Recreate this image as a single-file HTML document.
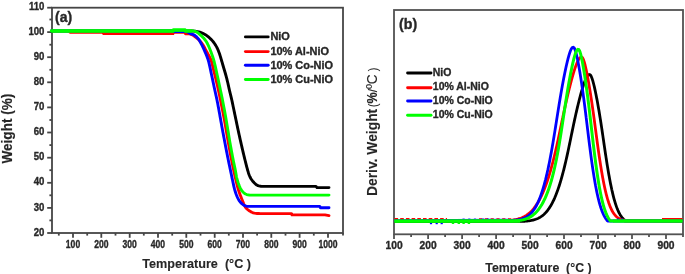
<!DOCTYPE html>
<html><head><meta charset="utf-8"><style>
html,body{margin:0;padding:0;background:#fff;}
body{width:685px;height:274px;position:relative;overflow:hidden;font-family:"Liberation Sans",sans-serif;}
</style></head><body>
<svg width="685" height="274" viewBox="0 0 685 274" style="position:absolute;left:0;top:0;will-change:transform;filter:blur(0.45px)">
<rect width="685" height="274" fill="#fff"/>
<g stroke="#454545" stroke-width="1.8" fill="none">
<rect x="52.0" y="7.7" width="291.0" height="225.3"/>
<line x1="47.2" y1="233.0" x2="52.0" y2="233.0"/>
<line x1="49.4" y1="220.4" x2="52.0" y2="220.4"/>
<line x1="47.2" y1="207.9" x2="52.0" y2="207.9"/>
<line x1="49.4" y1="195.3" x2="52.0" y2="195.3"/>
<line x1="47.2" y1="182.8" x2="52.0" y2="182.8"/>
<line x1="49.4" y1="170.2" x2="52.0" y2="170.2"/>
<line x1="47.2" y1="157.7" x2="52.0" y2="157.7"/>
<line x1="49.4" y1="145.1" x2="52.0" y2="145.1"/>
<line x1="47.2" y1="132.5" x2="52.0" y2="132.5"/>
<line x1="49.4" y1="120.0" x2="52.0" y2="120.0"/>
<line x1="47.2" y1="107.4" x2="52.0" y2="107.4"/>
<line x1="49.4" y1="94.9" x2="52.0" y2="94.9"/>
<line x1="47.2" y1="82.3" x2="52.0" y2="82.3"/>
<line x1="49.4" y1="69.8" x2="52.0" y2="69.8"/>
<line x1="47.2" y1="57.2" x2="52.0" y2="57.2"/>
<line x1="49.4" y1="44.7" x2="52.0" y2="44.7"/>
<line x1="47.2" y1="32.1" x2="52.0" y2="32.1"/>
<line x1="49.4" y1="19.5" x2="52.0" y2="19.5"/>
<line x1="47.2" y1="7.7" x2="52.0" y2="7.7"/>
<line x1="58.8" y1="233.0" x2="58.8" y2="235.6"/>
<line x1="73.0" y1="233.0" x2="73.0" y2="237.8"/>
<line x1="87.2" y1="233.0" x2="87.2" y2="235.6"/>
<line x1="101.3" y1="233.0" x2="101.3" y2="237.8"/>
<line x1="115.5" y1="233.0" x2="115.5" y2="235.6"/>
<line x1="129.7" y1="233.0" x2="129.7" y2="237.8"/>
<line x1="143.8" y1="233.0" x2="143.8" y2="235.6"/>
<line x1="158.0" y1="233.0" x2="158.0" y2="237.8"/>
<line x1="172.2" y1="233.0" x2="172.2" y2="235.6"/>
<line x1="186.3" y1="233.0" x2="186.3" y2="237.8"/>
<line x1="200.5" y1="233.0" x2="200.5" y2="235.6"/>
<line x1="214.7" y1="233.0" x2="214.7" y2="237.8"/>
<line x1="228.8" y1="233.0" x2="228.8" y2="235.6"/>
<line x1="243.0" y1="233.0" x2="243.0" y2="237.8"/>
<line x1="257.1" y1="233.0" x2="257.1" y2="235.6"/>
<line x1="271.3" y1="233.0" x2="271.3" y2="237.8"/>
<line x1="285.5" y1="233.0" x2="285.5" y2="235.6"/>
<line x1="299.6" y1="233.0" x2="299.6" y2="237.8"/>
<line x1="313.8" y1="233.0" x2="313.8" y2="235.6"/>
<line x1="328.0" y1="233.0" x2="328.0" y2="237.8"/>
<line x1="343.0" y1="233.0" x2="343.0" y2="235.6"/>
</g>
<g stroke="#525252" stroke-width="1.8" fill="none">
<rect x="394.0" y="10.0" width="289.0" height="224.3"/>
<line x1="394.0" y1="234.3" x2="394.0" y2="239.1"/>
<line x1="411.1" y1="234.3" x2="411.1" y2="236.9"/>
<line x1="428.1" y1="234.3" x2="428.1" y2="239.1"/>
<line x1="445.1" y1="234.3" x2="445.1" y2="236.9"/>
<line x1="462.1" y1="234.3" x2="462.1" y2="239.1"/>
<line x1="479.1" y1="234.3" x2="479.1" y2="236.9"/>
<line x1="496.1" y1="234.3" x2="496.1" y2="239.1"/>
<line x1="513.1" y1="234.3" x2="513.1" y2="236.9"/>
<line x1="530.1" y1="234.3" x2="530.1" y2="239.1"/>
<line x1="547.1" y1="234.3" x2="547.1" y2="236.9"/>
<line x1="564.0" y1="234.3" x2="564.0" y2="239.1"/>
<line x1="581.0" y1="234.3" x2="581.0" y2="236.9"/>
<line x1="598.0" y1="234.3" x2="598.0" y2="239.1"/>
<line x1="615.0" y1="234.3" x2="615.0" y2="236.9"/>
<line x1="632.0" y1="234.3" x2="632.0" y2="239.1"/>
<line x1="649.0" y1="234.3" x2="649.0" y2="236.9"/>
<line x1="666.0" y1="234.3" x2="666.0" y2="239.1"/>
<line x1="683.0" y1="234.3" x2="683.0" y2="236.9"/>
</g>
<polyline points="51.50,31.00 190.00,31.00 191.01,31.01 192.02,31.02 193.02,31.04 194.00,31.10 195.19,31.22 196.34,31.38 197.50,31.60 198.69,31.87 199.88,32.19 201.10,32.60 202.20,33.06 203.33,33.59 204.44,34.18 205.50,34.80 206.42,35.40 207.30,36.03 208.15,36.69 209.00,37.40 209.91,38.22 210.81,39.09 211.68,39.99 212.50,40.90 213.21,41.75 213.87,42.61 214.49,43.49 215.10,44.40 215.71,45.38 216.30,46.39 216.86,47.43 217.40,48.50 217.83,49.45 218.24,50.42 218.64,51.42 219.02,52.44 219.40,53.50 219.75,54.52 220.08,55.58 220.41,56.66 220.74,57.76 221.07,58.88 221.40,60.00 221.76,61.22 222.13,62.46 222.50,63.72 222.86,64.98 223.23,66.24 223.60,67.50 223.97,68.75 224.35,70.01 224.72,71.26 225.09,72.52 225.45,73.76 225.80,75.00 226.12,76.17 226.43,77.33 226.73,78.48 227.02,79.64 227.31,80.81 227.60,82.00 227.90,83.29 228.20,84.59 228.49,85.91 228.78,87.25 229.08,88.61 229.40,90.00 229.78,91.60 230.18,93.25 230.59,94.93 231.01,96.62 231.41,98.32 231.80,100.00 232.17,101.66 232.52,103.33 232.87,105.00 233.21,106.67 233.55,108.33 233.90,110.00 234.25,111.67 234.60,113.33 234.95,115.00 235.30,116.67 235.65,118.33 236.00,120.00 236.35,121.67 236.70,123.33 237.04,125.00 237.39,126.67 237.74,128.33 238.10,130.00 238.46,131.67 238.82,133.33 239.19,135.00 239.56,136.67 239.93,138.33 240.30,140.00 240.68,141.67 241.06,143.33 241.44,145.00 241.82,146.67 242.21,148.33 242.60,150.00 242.99,151.67 243.39,153.34 243.78,155.00 244.18,156.67 244.59,158.33 245.00,160.00 245.42,161.70 245.85,163.43 246.29,165.16 246.73,166.86 247.17,168.48 247.60,170.00 247.93,171.11 248.25,172.18 248.57,173.21 248.90,174.19 249.24,175.12 249.60,176.00 250.20,177.28 250.83,178.43 251.50,179.50 252.14,180.39 252.81,181.21 253.50,182.00 254.21,182.78 254.94,183.53 255.70,184.20 256.80,184.98 258.00,185.60 258.94,185.92 259.94,186.14 261.00,186.30 261.96,186.38 262.96,186.40 263.99,186.39 265.00,186.40 316.00,186.40 317.00,187.60 329.00,187.60" fill="none" stroke="#000" stroke-width="2.9" stroke-linejoin="round" stroke-linecap="round"/>
<polyline points="70.00,32.30 103.00,32.30 103.50,33.60 173.00,33.60 173.50,32.40 185.00,32.40 185.50,33.80 189.50,33.80 190.51,34.18 191.51,34.55 192.50,35.00 193.50,35.58 194.49,36.25 195.50,37.00 196.28,37.61 197.10,38.28 197.93,38.98 198.73,39.73 199.50,40.50 200.25,41.33 200.98,42.20 201.68,43.10 202.35,44.04 203.00,45.00 203.54,45.88 204.06,46.79 204.56,47.74 205.04,48.68 205.52,49.61 206.00,50.50 206.51,51.42 207.02,52.32 207.52,53.20 208.01,54.09 208.50,55.00 209.01,55.95 209.53,56.88 210.04,57.84 210.53,58.87 211.00,60.00 211.49,61.45 211.94,63.06 212.36,64.77 212.77,66.53 213.18,68.29 213.60,70.00 214.02,71.67 214.45,73.33 214.87,75.00 215.28,76.66 215.70,78.33 216.10,80.00 216.50,81.67 216.89,83.33 217.27,85.00 217.66,86.66 218.03,88.33 218.40,90.00 218.75,91.63 219.09,93.20 219.43,94.78 219.77,96.41 220.12,98.13 220.50,100.00 221.09,102.93 221.73,106.16 222.41,109.57 223.09,113.08 223.76,116.58 224.40,120.00 225.01,123.36 225.61,126.77 226.20,130.18 226.78,133.55 227.35,136.83 227.90,140.00 228.37,142.66 228.83,145.27 229.29,147.83 229.73,150.31 230.17,152.70 230.60,155.00 230.95,156.81 231.29,158.55 231.63,160.24 231.96,161.87 232.28,163.46 232.60,165.00 232.86,166.23 233.11,167.41 233.35,168.55 233.59,169.68 233.84,170.82 234.10,172.00 234.38,173.29 234.67,174.60 234.96,175.91 235.26,177.25 235.57,178.61 235.90,180.00 236.29,181.61 236.68,183.26 237.10,184.94 237.53,186.64 238.00,188.33 238.50,190.00 239.06,191.70 239.66,193.41 240.29,195.13 240.93,196.81 241.57,198.44 242.20,200.00 242.71,201.29 243.21,202.57 243.70,203.81 244.21,204.98 244.74,206.06 245.30,207.00 246.16,208.10 247.07,209.00 248.00,209.80 248.85,210.47 249.72,211.07 250.60,211.60 251.88,212.27 253.20,212.80 254.55,213.16 256.00,213.40 256.95,213.49 257.95,213.53 258.98,213.56 260.00,213.60 291.50,213.60 292.00,214.90 325.00,214.90 329.00,215.60" fill="none" stroke="#ff0000" stroke-width="2.9" stroke-linejoin="round" stroke-linecap="round"/>
<polyline points="51.50,30.90 173.00,30.90 173.50,31.50 185.00,31.50 185.50,31.20 186.78,31.68 188.00,32.20 188.89,32.75 189.80,33.30 191.12,33.80 192.50,34.30 193.75,34.86 195.00,35.60 195.88,36.31 196.80,37.17 197.69,38.12 198.50,39.10 199.09,39.92 199.63,40.79 200.13,41.69 200.62,42.60 201.10,43.50 201.68,44.59 202.23,45.67 202.77,46.77 203.30,47.90 203.75,48.88 204.18,49.87 204.62,50.88 205.05,51.92 205.50,53.00 205.94,54.07 206.40,55.14 206.86,56.25 207.31,57.41 207.76,58.65 208.20,60.00 208.80,62.16 209.38,64.57 209.95,67.13 210.50,69.78 211.05,72.43 211.60,75.00 212.15,77.53 212.70,80.11 213.25,82.69 213.78,85.22 214.30,87.68 214.80,90.00 215.19,91.78 215.57,93.48 215.94,95.12 216.30,96.74 216.65,98.36 217.00,100.00 217.33,101.66 217.66,103.33 217.97,105.00 218.28,106.66 218.59,108.33 218.90,110.00 219.21,111.67 219.51,113.33 219.81,115.00 220.10,116.67 220.40,118.33 220.70,120.00 221.00,121.67 221.30,123.33 221.59,125.00 221.89,126.67 222.19,128.33 222.50,130.00 222.81,131.67 223.13,133.33 223.44,135.00 223.76,136.67 224.08,138.33 224.40,140.00 224.72,141.67 225.03,143.33 225.34,145.00 225.66,146.67 225.98,148.33 226.30,150.00 226.63,151.67 226.96,153.33 227.29,155.00 227.62,156.67 227.96,158.33 228.30,160.00 228.64,161.67 228.99,163.33 229.34,165.00 229.70,166.67 230.05,168.33 230.40,170.00 230.75,171.67 231.09,173.33 231.44,175.00 231.79,176.67 232.14,178.33 232.50,180.00 232.86,181.69 233.23,183.41 233.59,185.12 233.98,186.81 234.37,188.44 234.80,190.00 235.18,191.26 235.57,192.49 235.97,193.68 236.39,194.82 236.83,195.93 237.30,197.00 237.82,198.10 238.37,199.16 238.94,200.18 239.55,201.13 240.20,202.00 240.99,202.88 241.85,203.69 242.73,204.40 243.60,205.00 244.57,205.53 245.54,205.92 246.50,206.20 247.72,206.36 249.00,206.40 249.93,206.42 250.94,206.42 251.98,206.41 253.00,206.40 319.80,206.40 320.50,207.80 329.00,207.80" fill="none" stroke="#0000ff" stroke-width="2.9" stroke-linejoin="round" stroke-linecap="round"/>
<polyline points="51.20,30.90 173.00,30.90 173.50,30.00 185.00,30.00 185.50,30.90 193.30,30.90 194.48,31.26 195.65,31.61 196.80,32.10 197.70,32.66 198.58,33.32 199.45,34.05 200.30,34.80 201.21,35.62 202.11,36.49 202.98,37.39 203.80,38.30 204.50,39.14 205.16,39.98 205.79,40.85 206.40,41.80 206.96,42.76 207.50,43.79 208.02,44.86 208.52,45.94 209.00,47.00 209.43,47.98 209.83,48.94 210.21,49.91 210.60,50.92 211.00,52.00 211.44,53.19 211.89,54.43 212.34,55.71 212.80,57.07 213.25,58.49 213.70,60.00 214.30,62.22 214.89,64.64 215.48,67.20 216.06,69.82 216.64,72.44 217.20,75.00 217.76,77.53 218.31,80.11 218.86,82.69 219.40,85.22 219.91,87.67 220.40,90.00 220.77,91.74 221.12,93.35 221.45,94.91 221.78,96.48 222.13,98.16 222.50,100.00 223.07,102.93 223.68,106.15 224.32,109.57 224.96,113.08 225.60,116.58 226.20,120.00 226.78,123.41 227.36,126.92 227.93,130.43 228.48,133.84 229.01,137.06 229.50,140.00 229.82,141.87 230.13,143.59 230.42,145.22 230.71,146.80 231.00,148.37 231.30,150.00 231.61,151.67 231.92,153.33 232.23,155.00 232.55,156.67 232.87,158.33 233.20,160.00 233.54,161.68 233.90,163.38 234.27,165.07 234.63,166.75 234.97,168.40 235.30,170.00 235.56,171.40 235.80,172.78 236.04,174.13 236.27,175.46 236.52,176.75 236.80,178.00 237.07,179.06 237.35,180.10 237.64,181.10 237.94,182.08 238.26,183.05 238.60,184.00 239.00,185.06 239.42,186.11 239.86,187.14 240.32,188.11 240.80,189.00 241.49,190.11 242.22,191.10 243.00,192.00 243.79,192.76 244.63,193.44 245.50,194.00 246.73,194.55 248.00,194.90 249.22,195.05 250.50,195.10 251.62,195.12 252.81,195.11 254.00,195.10 329.00,195.10" fill="none" stroke="#00ff00" stroke-width="2.9" stroke-linejoin="round" stroke-linecap="round"/>
<polyline points="51.2,31.0 173,31.0 173.5,30.1 185,30.1 185.5,31.0 192,31.0" fill="none" stroke="#00ff00" stroke-width="3.4"/>
<polyline points="394.50,221.60 523.40,221.31 524.04,221.27 524.69,221.23 525.34,221.19 525.98,221.14 526.63,221.08 527.27,221.02 527.92,220.95 528.57,220.87 529.22,220.78 529.87,220.69 530.52,220.58 531.17,220.47 531.82,220.34 532.45,220.20 533.12,220.05 533.77,219.88 534.43,219.70 535.08,219.49 535.74,219.27 536.39,219.03 537.05,218.77 537.71,218.49 538.37,218.18 539.03,217.85 539.69,217.48 540.35,217.09 541.02,216.67 541.68,216.21 542.24,215.80 543.02,215.18 543.59,214.70 544.36,214.00 545.03,213.34 545.49,212.86 546.04,212.27 546.48,211.76 547.05,211.09 547.67,210.30 548.06,209.78 548.49,209.19 549.00,208.46 549.41,207.85 549.75,207.33 550.09,206.79 550.42,206.26 550.77,205.67 551.11,205.09 551.45,204.49 551.79,203.87 552.08,203.32 552.46,202.59 552.80,201.92 553.14,201.23 553.48,200.53 553.82,199.81 554.16,199.07 554.50,198.31 554.84,197.54 555.17,196.74 555.49,195.98 555.79,195.25 556.08,194.51 556.37,193.78 556.65,193.05 556.93,192.31 557.20,191.58 557.47,190.84 557.73,190.11 557.99,189.38 558.21,188.74 558.49,187.91 558.74,187.17 558.98,186.44 559.21,185.73 559.45,184.97 559.69,184.24 559.88,183.63 560.14,182.77 560.36,182.04 560.54,181.44 560.80,180.57 561.02,179.83 561.20,179.19 561.44,178.37 561.65,177.63 561.85,176.90 562.06,176.16 562.26,175.43 562.46,174.69 562.65,173.96 562.85,173.23 563.04,172.49 563.23,171.76 563.42,171.02 563.61,170.29 563.80,169.56 563.98,168.82 564.15,168.14 564.35,167.35 564.53,166.62 564.70,165.89 564.88,165.15 565.06,164.42 565.23,163.68 565.41,162.95 565.58,162.22 565.75,161.48 565.92,160.75 566.08,160.05 566.26,159.28 566.40,158.65 566.59,157.81 566.75,157.08 566.92,156.34 567.08,155.61 567.24,154.88 567.41,154.14 567.57,153.41 567.73,152.67 567.88,151.94 568.04,151.21 568.20,150.47 568.36,149.74 568.51,149.00 568.67,148.27 568.82,147.54 568.98,146.80 569.13,146.07 569.28,145.33 569.44,144.60 569.59,143.87 569.74,143.13 569.87,142.53 570.05,141.66 570.18,141.02 570.35,140.20 570.49,139.50 570.65,138.73 570.80,137.99 570.95,137.26 571.10,136.53 571.25,135.79 571.40,135.06 571.56,134.32 571.71,133.59 571.86,132.86 572.01,132.12 572.16,131.39 572.31,130.65 572.47,129.92 572.62,129.19 572.77,128.45 572.92,127.72 573.08,126.98 573.23,126.25 573.39,125.52 573.54,124.78 573.70,124.05 573.85,123.31 574.01,122.58 574.17,121.84 574.30,121.22 574.48,120.38 574.62,119.72 574.80,118.91 574.95,118.23 575.12,117.44 575.28,116.75 575.45,115.97 575.60,115.27 575.78,114.50 575.93,113.81 576.11,113.04 576.26,112.36 576.44,111.57 576.59,110.92 576.78,110.10 576.92,109.50 577.13,108.63 577.30,107.90 577.47,107.16 577.65,106.43 577.82,105.70 578.00,104.96 578.18,104.23 578.36,103.49 578.54,102.76 578.73,102.03 578.91,101.30 579.10,100.56 579.28,99.82 579.47,99.09 579.66,98.36 579.86,97.62 580.05,96.89 580.22,96.25 580.44,95.42 580.64,94.69 580.85,93.95 581.05,93.22 581.26,92.48 581.46,91.75 581.68,91.02 581.89,90.28 582.11,89.55 582.33,88.81 582.55,88.08 582.76,87.41 583.01,86.61 583.24,85.88 583.48,85.14 583.73,84.41 583.96,83.73 584.23,82.94 584.50,82.21 584.77,81.47 585.06,80.74 585.36,80.01 585.66,79.28 585.93,78.68 586.20,78.11 586.55,77.44 586.96,76.70 587.44,75.97 588.01,75.28 588.48,74.87 589.25,74.52 589.99,74.66 590.48,75.12 590.98,75.90 591.37,76.69 591.67,77.42 591.95,78.16 592.20,78.89 592.43,79.62 592.66,80.35 592.83,80.95 593.08,81.81 593.27,82.54 593.47,83.27 593.65,84.00 593.83,84.73 593.99,85.35 594.19,86.20 594.36,86.93 594.53,87.66 594.69,88.39 594.85,89.12 595.01,89.85 595.17,90.58 595.33,91.31 595.48,92.04 595.63,92.78 595.78,93.51 595.93,94.24 596.08,94.97 596.23,95.70 596.37,96.43 596.51,97.16 596.65,97.89 596.79,98.62 596.93,99.36 597.07,100.09 597.21,100.82 597.34,101.55 597.48,102.28 597.61,103.01 597.74,103.74 597.87,104.47 598.00,105.20 598.13,105.93 598.26,106.67 598.39,107.40 598.52,108.13 598.64,108.86 598.75,109.46 598.89,110.32 599.01,111.05 599.14,111.78 599.26,112.51 599.38,113.24 599.50,113.98 599.62,114.71 599.74,115.44 599.86,116.17 599.98,116.90 600.09,117.63 600.21,118.36 600.32,119.09 600.44,119.82 600.55,120.56 600.66,121.26 600.78,122.02 600.90,122.75 601.01,123.48 601.12,124.21 601.23,124.94 601.34,125.67 601.45,126.40 601.56,127.13 601.67,127.87 601.78,128.60 601.89,129.33 602.00,130.06 602.11,130.79 602.21,131.46 602.32,132.25 602.43,132.98 602.54,133.71 602.65,134.44 602.75,135.18 602.86,135.91 602.97,136.64 603.07,137.37 603.18,138.10 603.29,138.83 603.39,139.56 603.50,140.29 603.61,141.02 603.70,141.68 603.82,142.49 603.92,143.22 604.03,143.95 604.14,144.68 604.24,145.41 604.35,146.14 604.46,146.87 604.56,147.60 604.67,148.33 604.78,149.07 604.87,149.69 605.00,150.53 605.10,151.26 605.21,151.99 605.32,152.72 605.43,153.45 605.54,154.18 605.65,154.91 605.75,155.53 605.88,156.38 605.99,157.11 606.10,157.84 606.21,158.57 606.33,159.30 606.44,160.03 606.55,160.76 606.67,161.49 606.78,162.22 606.90,162.96 607.02,163.69 607.13,164.42 607.25,165.15 607.37,165.88 607.49,166.61 607.61,167.34 607.73,168.07 607.85,168.80 607.98,169.53 608.10,170.27 608.22,171.00 608.35,171.73 608.47,172.46 608.60,173.19 608.73,173.92 608.86,174.65 608.99,175.38 609.12,176.11 609.25,176.84 609.38,177.58 609.50,178.23 609.65,179.04 609.79,179.76 609.93,180.50 610.07,181.23 610.21,181.96 610.35,182.69 610.50,183.42 610.64,184.16 610.79,184.89 610.93,185.55 611.09,186.35 611.24,187.08 611.40,187.81 611.56,188.54 611.71,189.27 611.88,190.00 612.04,190.73 612.21,191.47 612.37,192.20 612.55,192.93 612.72,193.66 612.89,194.35 613.08,195.12 613.26,195.85 613.44,196.55 613.64,197.31 613.83,198.04 614.03,198.78 614.23,199.51 614.44,200.24 614.65,200.97 614.86,201.70 615.06,202.37 615.31,203.16 615.54,203.89 615.78,204.62 616.03,205.36 616.28,206.09 616.54,206.82 616.82,207.55 617.09,208.28 617.39,209.01 617.65,209.64 617.89,210.22 618.14,210.78 618.50,211.57 618.85,212.30 619.22,213.03 619.55,213.65 619.99,214.44 620.42,215.16 620.84,215.81 621.18,216.32 621.62,216.93 621.99,217.41 622.50,218.03 622.93,218.51 623.40,219.00 623.90,219.48 624.42,219.94 624.89,220.32 625.40,220.69 682.50,221.00" fill="none" stroke="#000" stroke-width="2.8" stroke-linejoin="round" />
<line x1="394.5" y1="219.0" x2="447" y2="219.0" stroke="#ff0000" stroke-width="2.0" stroke-dasharray="3.6 2.1"/>
<line x1="479" y1="219.2" x2="512" y2="219.2" stroke="#ff0000" stroke-width="2.0" stroke-dasharray="3.2 2.6"/>
<line x1="662" y1="219.2" x2="682.5" y2="219.2" stroke="#ff0000" stroke-width="2.4"/>
<polyline points="500.00,221.00 505.64,220.69 506.30,220.65 506.97,220.61 507.63,220.57 508.30,220.52 508.96,220.47 509.63,220.41 510.30,220.34 510.96,220.27 511.63,220.20 512.30,220.11 512.97,220.02 513.64,219.92 514.31,219.81 514.98,219.69 515.66,219.56 516.33,219.42 517.01,219.26 517.68,219.09 518.36,218.91 519.04,218.71 519.71,218.50 520.39,218.27 521.08,218.02 521.76,217.75 522.44,217.45 523.13,217.14 523.81,216.80 524.50,216.44 525.19,216.05 525.88,215.64 526.58,215.19 527.27,214.71 527.97,214.20 528.59,213.72 529.09,213.31 529.57,212.90 530.02,212.49 530.47,212.08 531.12,211.45 531.70,210.85 532.17,210.35 532.82,209.62 533.23,209.15 533.85,208.40 534.29,207.84 534.80,207.17 535.36,206.42 535.71,205.92 536.07,205.40 536.42,204.88 536.78,204.33 537.13,203.78 537.49,203.21 537.82,202.67 538.20,202.03 538.54,201.44 538.91,200.78 539.23,200.21 539.62,199.48 539.98,198.81 540.31,198.17 540.69,197.41 541.05,196.68 541.32,196.12 541.70,195.30 542.08,194.48 542.45,193.67 542.81,192.85 543.16,192.03 543.51,191.21 543.85,190.39 544.18,189.57 544.51,188.76 544.83,187.94 545.14,187.12 545.45,186.30 545.75,185.48 546.00,184.81 546.34,183.85 546.63,183.03 546.91,182.21 547.19,181.39 547.39,180.80 547.61,180.16 547.88,179.34 548.09,178.69 548.27,178.12 548.53,177.30 548.78,176.52 549.05,175.66 549.30,174.84 549.54,174.03 549.79,173.21 550.03,172.39 550.27,171.57 550.50,170.78 550.74,169.93 550.97,169.12 551.18,168.37 551.43,167.48 551.65,166.66 551.86,165.90 552.09,165.02 552.31,164.21 552.52,163.39 552.74,162.57 552.95,161.75 553.16,160.93 553.37,160.11 553.53,159.45 553.78,158.48 553.98,157.66 554.18,156.84 554.38,156.02 554.53,155.41 554.68,154.79 554.86,154.04 555.07,153.16 555.26,152.34 555.45,151.52 555.64,150.70 555.83,149.88 556.02,149.07 556.17,148.43 556.30,147.84 556.49,147.02 556.67,146.20 556.82,145.55 557.04,144.56 557.22,143.75 557.40,142.93 557.58,142.11 557.76,141.29 557.94,140.47 558.10,139.69 558.29,138.84 558.42,138.21 558.55,137.61 558.73,136.79 558.90,135.97 559.06,135.22 559.25,134.34 559.38,133.71 559.50,133.11 559.68,132.29 559.85,131.47 560.01,130.69 560.19,129.83 560.33,129.17 560.53,128.20 560.70,127.38 560.87,126.56 561.04,125.74 561.21,124.92 561.38,124.11 561.55,123.29 561.72,122.47 561.89,121.65 562.06,120.83 562.23,120.01 562.40,119.20 562.55,118.47 562.75,117.56 562.87,116.94 563.00,116.33 563.18,115.51 563.35,114.69 563.52,113.89 563.70,113.06 563.84,112.37 564.04,111.42 564.22,110.60 564.40,109.78 564.57,108.97 564.75,108.15 564.93,107.33 565.11,106.51 565.29,105.69 565.47,104.87 565.65,104.06 565.80,103.38 566.01,102.42 566.20,101.60 566.38,100.78 566.57,99.96 566.76,99.15 566.94,98.33 567.12,97.56 567.32,96.69 567.51,95.87 567.71,95.05 567.90,94.24 568.09,93.42 568.29,92.60 568.45,91.95 568.69,90.96 568.89,90.14 569.09,89.33 569.29,88.51 569.44,87.90 569.60,87.28 569.77,86.59 570.01,85.64 570.22,84.82 570.43,84.02 570.65,83.19 570.86,82.37 571.08,81.55 571.30,80.73 571.52,79.91 571.73,79.13 571.97,78.28 572.20,77.46 572.37,76.83 572.55,76.23 572.78,75.41 573.01,74.63 573.26,73.78 573.51,72.96 573.75,72.14 573.94,71.53 574.13,70.91 574.39,70.09 574.66,69.28 574.85,68.69 575.07,68.05 575.35,67.23 575.63,66.41 575.93,65.59 576.23,64.77 576.55,63.96 576.87,63.17 577.14,62.51 577.41,61.91 577.69,61.31 577.96,60.76 578.43,59.86 578.74,59.33 579.21,58.64 579.77,57.95 580.27,57.48 581.01,57.08 581.75,57.04 582.24,57.39 582.74,58.09 583.03,58.64 583.39,59.46 583.69,60.27 583.97,61.09 584.23,61.91 584.46,62.73 584.69,63.55 584.87,64.22 585.11,65.18 585.31,66.00 585.51,66.82 585.70,67.64 585.88,68.46 586.03,69.15 586.24,70.09 586.41,70.91 586.58,71.73 586.75,72.55 586.91,73.37 587.07,74.19 587.23,75.00 587.39,75.82 587.55,76.64 587.70,77.46 587.85,78.28 588.00,79.10 588.15,79.91 588.30,80.73 588.45,81.55 588.55,82.14 588.66,82.78 588.80,83.60 588.95,84.42 589.09,85.23 589.20,85.94 589.36,86.87 589.50,87.69 589.63,88.51 589.77,89.33 589.90,90.14 590.04,90.96 590.17,91.78 590.30,92.60 590.43,93.42 590.52,94.03 590.62,94.64 590.75,95.46 590.85,96.14 591.00,97.10 591.13,97.92 591.25,98.74 591.37,99.55 591.50,100.37 591.62,101.19 591.74,102.01 591.84,102.65 591.98,103.65 592.10,104.46 592.22,105.28 592.34,106.10 592.46,106.92 592.57,107.74 592.69,108.56 592.80,109.35 592.92,110.19 593.04,111.01 593.12,111.62 593.21,112.24 593.32,113.06 593.44,113.88 593.55,114.69 593.66,115.51 593.75,116.18 593.88,117.15 594.00,117.97 594.11,118.79 594.22,119.60 594.33,120.42 594.44,121.24 594.55,122.06 594.66,122.88 594.77,123.70 594.88,124.51 594.99,125.33 595.10,126.15 595.20,126.97 595.29,127.64 595.42,128.61 595.53,129.42 595.64,130.24 595.75,131.06 595.86,131.88 595.96,132.70 596.07,133.52 596.18,134.34 596.29,135.15 596.40,135.97 596.50,136.72 596.62,137.61 596.73,138.43 596.84,139.25 596.95,140.06 597.06,140.88 597.17,141.70 597.28,142.52 597.39,143.34 597.51,144.16 597.62,144.97 597.73,145.79 597.85,146.61 597.96,147.43 598.07,148.25 598.19,149.07 598.30,149.85 598.42,150.70 598.54,151.52 598.65,152.34 598.77,153.16 598.89,153.98 599.01,154.79 599.13,155.61 599.25,156.43 599.37,157.25 599.49,158.07 599.62,158.89 599.74,159.70 599.86,160.52 599.99,161.34 600.10,162.07 600.24,162.98 600.37,163.80 600.50,164.61 600.63,165.43 600.76,166.25 600.89,167.07 601.00,167.76 601.16,168.71 601.29,169.52 601.43,170.34 601.56,171.16 601.70,171.98 601.84,172.80 601.99,173.62 602.13,174.43 602.27,175.25 602.42,176.07 602.57,176.89 602.72,177.71 602.87,178.53 603.02,179.34 603.18,180.16 603.33,180.98 603.49,181.80 603.66,182.62 603.82,183.44 603.99,184.25 604.15,185.07 604.30,185.77 604.50,186.71 604.68,187.53 604.86,188.35 605.04,189.17 605.20,189.87 605.41,190.80 605.61,191.62 605.80,192.42 606.01,193.26 606.21,194.08 606.40,194.81 606.64,195.71 606.86,196.53 607.08,197.35 607.30,198.11 607.55,198.99 607.80,199.80 608.05,200.62 608.31,201.44 608.50,202.03 608.71,202.67 609.00,203.49 609.29,204.30 609.59,205.12 609.91,205.94 610.24,206.76 610.59,207.58 610.90,208.29 611.20,208.94 611.50,209.56 611.80,210.16 612.10,210.73 612.39,211.26 612.70,211.79 613.12,212.49 613.60,213.22 613.94,213.72 614.50,214.46 614.89,214.94 615.40,215.53 616.00,216.15 616.45,216.58 616.92,216.99 617.43,217.40 617.99,217.81 618.62,218.22 619.30,218.61 619.90,218.91 620.50,219.18 621.10,219.42 621.70,219.62 622.30,219.81 622.90,219.97 623.50,220.11 624.10,220.24 624.70,220.34 624.70,221.00 682.50,221.00" fill="none" stroke="#ff0000" stroke-width="2.8" stroke-linejoin="round" />
<polyline points="394.50,220.60 513.52,220.26 514.16,220.21 514.81,220.16 515.45,220.10 516.10,220.03 516.75,219.95 517.39,219.86 518.04,219.76 518.69,219.65 519.34,219.53 519.99,219.39 520.64,219.24 521.29,219.07 521.94,218.88 522.59,218.67 523.24,218.44 523.90,218.19 524.55,217.91 525.21,217.60 525.87,217.26 526.53,216.88 527.19,216.47 527.85,216.02 528.51,215.53 529.10,215.06 529.60,214.63 530.08,214.20 530.53,213.76 530.95,213.33 531.51,212.74 532.12,212.03 532.51,211.55 533.15,210.74 533.52,210.23 534.07,209.44 534.53,208.75 534.87,208.22 535.20,207.67 535.54,207.10 535.88,206.51 536.17,205.98 536.55,205.27 536.86,204.68 537.23,203.94 537.51,203.38 537.91,202.53 538.25,201.79 538.50,201.22 538.88,200.35 539.24,199.49 539.59,198.62 539.93,197.76 540.26,196.89 540.58,196.03 540.90,195.16 541.20,194.30 541.50,193.43 541.79,192.56 542.08,191.70 542.32,190.97 542.63,189.97 542.90,189.10 543.16,188.24 543.42,187.37 543.67,186.52 543.92,185.64 544.16,184.78 544.34,184.13 544.52,183.48 544.67,182.89 544.86,182.18 545.09,181.32 545.31,180.45 545.54,179.59 545.75,178.72 545.97,177.86 546.18,176.99 546.35,176.29 546.49,175.69 546.68,174.89 546.89,173.96 547.09,173.10 547.29,172.23 547.48,171.37 547.67,170.51 547.87,169.64 548.00,169.00 548.15,168.34 548.33,167.47 548.51,166.61 548.66,165.90 548.87,164.88 549.05,164.01 549.22,163.15 549.40,162.28 549.57,161.42 549.74,160.55 549.91,159.68 550.08,158.82 550.24,157.95 550.41,157.09 550.57,156.22 550.73,155.36 550.89,154.49 551.05,153.63 551.21,152.76 551.37,151.90 551.53,151.03 551.68,150.17 551.83,149.30 551.99,148.44 552.14,147.57 552.29,146.71 552.44,145.84 552.59,144.98 552.74,144.11 552.86,143.40 553.03,142.38 553.18,141.53 553.32,140.65 553.47,139.78 553.61,138.92 553.76,138.05 553.90,137.19 554.04,136.32 554.18,135.46 554.32,134.59 554.44,133.88 554.60,132.86 554.74,132.00 554.88,131.13 555.02,130.27 555.16,129.40 555.29,128.54 555.43,127.67 555.57,126.80 555.69,126.04 555.84,125.07 555.98,124.21 556.11,123.34 556.25,122.48 556.39,121.61 556.52,120.75 556.63,120.08 556.73,119.45 556.86,118.58 557.00,117.72 557.14,116.85 557.26,116.09 557.41,115.12 557.55,114.26 557.68,113.39 557.82,112.53 557.96,111.66 558.10,110.80 558.21,110.11 558.30,109.50 558.44,108.63 558.58,107.77 558.72,106.90 558.85,106.13 559.00,105.17 559.14,104.31 559.28,103.44 559.43,102.58 559.57,101.71 559.71,100.85 559.82,100.23 559.93,99.55 560.07,98.68 560.22,97.82 560.37,96.95 560.47,96.35 560.59,95.65 560.73,94.79 560.88,93.92 561.03,93.06 561.18,92.19 561.34,91.33 561.46,90.65 561.56,90.03 561.72,89.17 561.87,88.30 562.03,87.43 562.18,86.57 562.34,85.70 562.50,84.84 562.66,83.97 562.78,83.33 562.90,82.68 563.06,81.81 563.23,80.95 563.39,80.08 563.56,79.21 563.72,78.35 563.89,77.48 564.06,76.62 564.23,75.75 564.41,74.89 564.58,74.02 564.75,73.17 564.93,72.29 565.08,71.59 565.20,70.99 565.39,70.13 565.57,69.26 565.72,68.55 565.94,67.53 566.14,66.67 566.33,65.80 566.52,64.94 566.67,64.30 566.82,63.64 566.98,62.97 567.13,62.34 567.29,61.69 567.44,61.04 567.59,60.45 567.77,59.75 567.99,58.88 568.18,58.12 568.45,57.15 568.69,56.29 568.93,55.42 569.19,54.55 569.46,53.69 569.74,52.82 570.04,51.96 570.36,51.09 570.68,50.30 570.94,49.71 571.34,48.93 571.71,48.32 572.21,47.70 572.71,47.32 573.44,47.25 573.93,47.62 574.42,48.35 574.71,48.93 575.06,49.80 575.36,50.67 575.63,51.54 575.88,52.40 576.12,53.27 576.34,54.14 576.52,54.85 576.66,55.44 576.80,56.04 576.95,56.74 577.15,57.61 577.33,58.47 577.51,59.34 577.66,60.07 577.86,61.08 578.03,61.94 578.20,62.81 578.36,63.68 578.52,64.55 578.68,65.41 578.84,66.28 579.00,67.15 579.15,68.01 579.30,68.88 579.45,69.75 579.60,70.62 579.74,71.48 579.89,72.35 580.03,73.22 580.13,73.85 580.24,74.52 580.38,75.39 580.52,76.25 580.66,77.12 580.78,77.86 580.93,78.86 581.07,79.72 581.20,80.59 581.33,81.46 581.42,82.07 581.53,82.76 581.66,83.63 581.75,84.24 581.85,84.93 581.97,85.79 582.07,86.44 582.16,87.09 582.29,87.96 582.39,88.68 582.54,89.70 582.66,90.56 582.78,91.43 582.90,92.30 583.02,93.16 583.14,94.03 583.26,94.90 583.35,95.57 583.44,96.20 583.55,97.07 583.67,97.92 583.79,98.80 583.90,99.67 583.98,100.29 584.07,100.97 584.19,101.84 584.30,102.68 584.41,103.57 584.52,104.44 584.61,105.08 584.69,105.74 584.80,106.61 584.91,107.47 585.02,108.34 585.13,109.21 585.22,109.91 585.29,110.51 585.40,111.38 585.51,112.24 585.62,113.11 585.73,113.98 585.82,114.77 585.94,115.71 586.05,116.58 586.12,117.21 586.21,117.88 586.31,118.75 586.42,119.62 586.52,120.48 586.63,121.35 586.72,122.06 586.84,123.09 586.94,123.95 587.05,124.82 587.15,125.69 587.26,126.55 587.36,127.42 587.47,128.29 587.57,129.16 587.68,130.02 587.79,130.89 587.88,131.68 588.00,132.63 588.10,133.49 588.21,134.36 588.31,135.23 588.42,136.09 588.53,136.96 588.63,137.83 588.74,138.70 588.85,139.56 588.96,140.43 589.03,141.05 589.12,141.73 589.23,142.60 589.32,143.33 589.45,144.33 589.56,145.20 589.67,146.07 589.78,146.94 589.89,147.80 590.00,148.67 590.12,149.54 590.23,150.40 590.34,151.27 590.46,152.14 590.57,153.01 590.69,153.87 590.80,154.74 590.92,155.61 591.04,156.47 591.15,157.34 591.27,158.21 591.39,159.08 591.51,159.94 591.60,160.60 591.69,161.24 591.82,162.11 591.94,162.98 592.06,163.85 592.17,164.58 592.31,165.58 592.44,166.45 592.57,167.32 592.70,168.18 592.83,169.05 592.96,169.92 593.09,170.78 593.22,171.65 593.36,172.52 593.49,173.39 593.63,174.25 593.77,175.12 593.91,175.99 594.05,176.86 594.19,177.72 594.34,178.59 594.48,179.46 594.63,180.32 594.78,181.19 594.93,182.06 595.08,182.93 595.22,183.67 595.40,184.66 595.55,185.53 595.72,186.40 595.88,187.26 596.02,188.01 596.22,189.00 596.39,189.86 596.56,190.71 596.74,191.60 596.92,192.47 597.08,193.24 597.29,194.20 597.48,195.07 597.68,195.94 597.86,196.75 598.08,197.67 598.29,198.54 598.50,199.40 598.72,200.27 598.88,200.89 599.05,201.57 599.28,202.44 599.52,203.31 599.77,204.17 600.02,205.04 600.28,205.91 600.55,206.78 600.79,207.53 601.02,208.22 601.24,208.88 601.46,209.51 601.68,210.11 601.89,210.68 602.10,211.24 602.39,211.98 602.71,212.76 603.10,213.65 603.47,214.47 603.73,215.02 604.16,215.86 604.48,216.46 604.78,217.00 605.14,217.62 605.56,218.29 605.98,218.92 606.35,219.44 606.77,219.99 607.18,220.49 607.63,221.00 682.50,221.00" fill="none" stroke="#0000ff" stroke-width="2.8" stroke-linejoin="round" />
<rect x="429.9" y="222.6" width="2.2" height="1.6" fill="#0000ff"/>
<rect x="435.6" y="222.6" width="2.2" height="1.6" fill="#0000ff"/>
<rect x="440.6" y="222.6" width="2.2" height="1.6" fill="#0000ff"/>
<rect x="462.5" y="218.6" width="2.2" height="1.6" fill="#0000ff"/>
<rect x="468.2" y="218.6" width="2.2" height="1.6" fill="#0000ff"/>
<rect x="473.9" y="218.6" width="2.2" height="1.6" fill="#0000ff"/>
<rect x="481.8" y="218.6" width="2.2" height="1.6" fill="#0000ff"/>
<rect x="486.9" y="218.6" width="2.2" height="1.6" fill="#0000ff"/>
<rect x="616.9" y="218.5" width="2.2" height="1.6" fill="#0000ff"/>
<rect x="620.9" y="218.5" width="2.2" height="1.6" fill="#0000ff"/>
<polyline points="394.50,221.20 514.97,220.86 515.72,220.81 516.46,220.75 517.21,220.68 517.96,220.61 518.71,220.52 519.43,220.43 520.22,220.31 520.98,220.19 521.74,220.05 522.51,219.89 523.28,219.71 524.05,219.51 524.82,219.29 525.60,219.04 526.38,218.77 527.17,218.46 527.97,218.12 528.55,217.85 529.16,217.55 529.97,217.11 530.78,216.63 531.55,216.14 532.17,215.71 532.75,215.28 533.24,214.90 533.82,214.42 534.31,213.99 534.78,213.57 535.24,213.14 535.67,212.71 536.17,212.19 536.59,211.74 537.01,211.26 537.44,210.77 537.87,210.26 538.29,209.72 538.72,209.17 539.15,208.59 539.58,207.99 540.01,207.37 540.44,206.72 540.87,206.05 541.27,205.42 541.73,204.64 542.17,203.90 542.52,203.27 542.99,202.41 543.44,201.56 543.87,200.70 544.29,199.84 544.70,198.98 545.10,198.13 545.48,197.27 545.86,196.41 546.22,195.55 546.47,194.95 546.75,194.26 547.09,193.41 547.32,192.82 547.58,192.12 547.90,191.26 548.16,190.56 548.37,189.98 548.58,189.38 548.82,188.69 549.11,187.83 549.40,186.97 549.68,186.12 549.95,185.26 550.22,184.40 550.49,183.54 550.75,182.68 551.00,181.83 551.25,180.97 551.46,180.25 551.74,179.25 551.97,178.40 552.20,177.54 552.43,176.68 552.65,175.86 552.88,174.96 553.04,174.34 553.21,173.68 553.42,172.82 553.63,171.96 553.82,171.19 554.04,170.25 554.20,169.57 554.34,168.96 554.54,168.10 554.73,167.24 554.92,166.39 555.11,165.53 555.30,164.67 555.48,163.81 555.66,162.96 555.84,162.10 556.02,161.24 556.20,160.38 556.37,159.52 556.54,158.67 556.71,157.81 556.88,156.95 557.04,156.09 557.21,155.24 557.37,154.38 557.50,153.70 557.61,153.09 557.77,152.23 557.93,151.38 558.08,150.52 558.20,149.89 558.31,149.23 558.47,148.37 558.62,147.52 558.77,146.66 558.88,145.98 558.99,145.37 559.14,144.51 559.28,143.66 559.43,142.80 559.56,142.00 559.71,141.08 559.85,140.22 559.99,139.37 560.13,138.51 560.27,137.65 560.41,136.79 560.55,135.94 560.68,135.08 560.82,134.22 560.95,133.36 561.09,132.50 561.20,131.73 561.35,130.79 561.48,129.93 561.61,129.07 561.75,128.22 561.85,127.54 561.94,126.93 562.07,126.07 562.17,125.43 562.27,124.78 562.40,123.93 562.49,123.31 562.59,122.64 562.72,121.78 562.85,120.92 562.98,120.07 563.11,119.21 563.24,118.35 563.36,117.49 563.49,116.64 563.62,115.78 563.75,114.92 563.88,114.06 564.01,113.20 564.14,112.35 564.27,111.49 564.40,110.63 564.53,109.77 564.66,108.92 564.79,108.06 564.92,107.20 565.05,106.34 565.19,105.48 565.32,104.63 565.45,103.77 565.59,102.91 565.71,102.15 565.85,101.20 565.99,100.34 566.13,99.48 566.26,98.62 566.36,98.01 566.47,97.34 566.60,96.48 566.74,95.62 566.88,94.76 567.02,93.94 567.16,93.05 567.31,92.19 567.45,91.33 567.59,90.47 567.74,89.62 567.88,88.76 568.01,88.01 568.17,87.04 568.32,86.18 568.47,85.33 568.62,84.47 568.77,83.61 568.92,82.75 569.08,81.90 569.23,81.04 569.39,80.18 569.54,79.32 569.66,78.68 569.78,78.04 569.94,77.18 570.10,76.32 570.26,75.46 570.43,74.60 570.59,73.75 570.76,72.89 570.93,72.03 571.10,71.17 571.28,70.32 571.45,69.46 571.60,68.73 571.81,67.74 571.99,66.88 572.17,66.03 572.36,65.17 572.54,64.38 572.75,63.45 572.94,62.60 573.14,61.75 573.35,60.88 573.56,60.02 573.73,59.34 573.89,58.74 574.11,57.88 574.31,57.17 574.59,56.18 574.85,55.30 575.12,54.45 575.41,53.59 575.68,52.84 575.94,52.18 576.20,51.58 576.47,51.02 576.96,50.19 577.35,49.73 577.95,49.34 578.69,49.51 579.18,50.13 579.61,51.01 579.93,51.82 580.19,52.59 580.45,53.45 580.71,54.41 580.94,55.30 581.15,56.15 581.35,57.01 581.54,57.85 581.72,58.72 581.90,59.58 582.08,60.44 582.25,61.29 582.40,62.09 582.58,63.01 582.70,63.67 582.81,64.29 582.97,65.15 583.12,66.01 583.27,66.86 583.42,67.72 583.57,68.58 583.71,69.43 583.85,70.29 584.00,71.15 584.13,72.00 584.24,72.67 584.34,73.29 584.48,74.15 584.61,75.00 584.74,75.86 584.88,76.72 585.01,77.57 585.14,78.43 585.26,79.29 585.39,80.14 585.52,81.00 585.64,81.86 585.77,82.71 585.89,83.57 586.01,84.43 586.14,85.28 586.26,86.14 586.38,87.00 586.49,87.85 586.61,88.71 586.73,89.57 586.82,90.20 586.90,90.85 587.02,91.71 587.13,92.57 587.25,93.42 587.36,94.28 587.46,95.02 587.58,95.99 587.70,96.85 587.78,97.47 587.86,98.14 587.97,98.99 588.08,99.85 588.19,100.71 588.30,101.56 588.40,102.42 588.51,103.28 588.62,104.13 588.72,104.96 588.83,105.85 588.93,106.70 589.03,107.49 589.14,108.42 589.24,109.27 589.33,110.04 589.45,110.99 589.55,111.85 589.64,112.59 589.75,113.56 589.85,114.42 589.94,115.15 590.06,116.13 590.16,116.99 590.24,117.71 590.36,118.70 590.46,119.56 590.54,120.27 590.65,121.27 590.75,122.13 590.83,122.83 590.95,123.84 591.05,124.70 591.13,125.38 591.20,125.98 591.30,126.84 591.39,127.70 591.49,128.55 591.59,129.41 591.69,130.27 591.79,131.12 591.89,131.98 591.99,132.84 592.09,133.69 592.19,134.55 592.28,135.41 592.38,136.26 592.48,137.12 592.58,137.92 592.69,138.83 592.79,139.69 592.87,140.37 592.94,140.98 593.04,141.83 593.14,142.69 593.24,143.55 593.35,144.40 593.44,145.19 593.55,146.12 593.66,146.97 593.76,147.83 593.86,148.69 593.97,149.54 594.08,150.40 594.18,151.26 594.29,152.11 594.40,152.97 594.50,153.83 594.58,154.47 594.67,155.11 594.77,155.97 594.87,156.71 594.99,157.68 595.11,158.54 595.22,159.40 595.33,160.25 595.44,161.06 595.56,161.97 595.67,162.82 595.79,163.68 595.90,164.54 596.00,165.26 596.14,166.25 596.26,167.11 596.38,167.96 596.50,168.82 596.62,169.68 596.74,170.53 596.84,171.23 596.99,172.25 597.12,173.11 597.24,173.96 597.37,174.82 597.50,175.68 597.63,176.53 597.77,177.39 597.90,178.25 598.04,179.10 598.17,179.96 598.31,180.82 598.45,181.67 598.59,182.53 598.74,183.39 598.88,184.24 599.03,185.10 599.18,185.96 599.31,186.72 599.48,187.67 599.64,188.53 599.80,189.38 599.96,190.24 600.12,191.05 600.29,191.95 600.46,192.81 600.63,193.67 600.81,194.52 600.99,195.38 601.16,196.20 601.36,197.10 601.55,197.95 601.74,198.81 601.93,199.61 602.15,200.52 602.36,201.38 602.57,202.24 602.79,203.09 603.02,203.95 603.25,204.81 603.49,205.66 603.74,206.52 604.00,207.38 604.26,208.23 604.54,209.09 604.77,209.79 604.97,210.38 605.20,211.02 605.41,211.59 605.76,212.52 606.01,213.14 606.29,213.80 606.58,214.47 606.85,215.09 607.26,215.94 607.58,216.57 607.88,217.13 608.18,217.66 608.53,218.26 608.86,218.79 609.24,219.36 609.61,219.88 609.98,220.36 610.51,221.00 682.50,221.00" fill="none" stroke="#00ff00" stroke-width="3.0" stroke-linejoin="round" />
<line x1="394.5" y1="221.1" x2="520" y2="221.1" stroke="#00ff00" stroke-width="3.4"/>
<line x1="613" y1="221.0" x2="682.5" y2="221.0" stroke="#00ff00" stroke-width="3.2"/>
<rect x="451.8" y="222.4" width="2.4" height="1.6" fill="#00ff00"/>
<rect x="457.6" y="222.4" width="2.4" height="1.6" fill="#00ff00"/>
<rect x="462.4" y="222.4" width="2.4" height="1.6" fill="#00ff00"/>
<rect x="467.7" y="222.4" width="2.4" height="1.6" fill="#00ff00"/>
<g font-family="Liberation Sans, sans-serif" font-weight="bold" fill="#272727" stroke="#272727" stroke-width="0.35" stroke-linejoin="round">
<line x1="245.4" y1="36.9" x2="268.2" y2="36.9" stroke="#000" stroke-width="2.9" stroke-linecap="round"/>
<text transform="translate(270.40,40.25) scale(1.035,1)" font-size="10.6" text-anchor="start" >NiO</text>
<line x1="245.4" y1="51.6" x2="268.2" y2="51.6" stroke="#ff0000" stroke-width="2.9" stroke-linecap="round"/>
<text transform="translate(270.40,54.95) scale(1.035,1)" font-size="10.6" text-anchor="start" >10% Al-NiO</text>
<line x1="245.4" y1="65.3" x2="268.2" y2="65.3" stroke="#0000ff" stroke-width="2.9" stroke-linecap="round"/>
<text transform="translate(270.40,68.65) scale(1.035,1)" font-size="10.6" text-anchor="start" >10% Co-NiO</text>
<line x1="245.4" y1="79.5" x2="268.2" y2="79.5" stroke="#00ff00" stroke-width="2.9" stroke-linecap="round"/>
<text transform="translate(270.40,82.85) scale(1.035,1)" font-size="10.6" text-anchor="start" >10% Cu-NiO</text>
<line x1="407.6" y1="73.0" x2="431.0" y2="73.0" stroke="#000" stroke-width="2.9" stroke-linecap="round"/>
<text transform="translate(432.80,75.60) scale(0.990,1)" font-size="10.6" text-anchor="start" >NiO</text>
<line x1="407.6" y1="87.7" x2="431.0" y2="87.7" stroke="#ff0000" stroke-width="2.9" stroke-linecap="round"/>
<text transform="translate(432.80,90.30) scale(0.990,1)" font-size="10.6" text-anchor="start" >10% Al-NiO</text>
<line x1="407.6" y1="101.0" x2="431.0" y2="101.0" stroke="#0000ff" stroke-width="2.9" stroke-linecap="round"/>
<text transform="translate(432.80,103.60) scale(0.990,1)" font-size="10.6" text-anchor="start" >10% Co-NiO</text>
<line x1="407.6" y1="115.2" x2="431.0" y2="115.2" stroke="#00ff00" stroke-width="2.9" stroke-linecap="round"/>
<text transform="translate(432.80,117.80) scale(0.990,1)" font-size="10.6" text-anchor="start" >10% Cu-NiO</text>
<text transform="translate(44.40,235.68) scale(0.940,1)" font-size="10.2" text-anchor="end" >20</text>
<text transform="translate(44.40,210.57) scale(0.940,1)" font-size="10.2" text-anchor="end" >30</text>
<text transform="translate(44.40,185.46) scale(0.940,1)" font-size="10.2" text-anchor="end" >40</text>
<text transform="translate(44.40,160.35) scale(0.940,1)" font-size="10.2" text-anchor="end" >50</text>
<text transform="translate(44.40,135.24) scale(0.940,1)" font-size="10.2" text-anchor="end" >60</text>
<text transform="translate(44.40,110.13) scale(0.940,1)" font-size="10.2" text-anchor="end" >70</text>
<text transform="translate(44.40,85.02) scale(0.940,1)" font-size="10.2" text-anchor="end" >80</text>
<text transform="translate(44.40,59.91) scale(0.940,1)" font-size="10.2" text-anchor="end" >90</text>
<text transform="translate(44.40,34.80) scale(0.940,1)" font-size="10.2" text-anchor="end" >100</text>
<text transform="translate(44.40,9.69) scale(0.940,1)" font-size="10.2" text-anchor="end" >110</text>
<text transform="translate(73.00,247.60) scale(0.840,1)" font-size="10.2" text-anchor="middle" >100</text>
<text transform="translate(101.33,247.60) scale(0.840,1)" font-size="10.2" text-anchor="middle" >200</text>
<text transform="translate(129.66,247.60) scale(0.840,1)" font-size="10.2" text-anchor="middle" >300</text>
<text transform="translate(157.99,247.60) scale(0.840,1)" font-size="10.2" text-anchor="middle" >400</text>
<text transform="translate(186.32,247.60) scale(0.840,1)" font-size="10.2" text-anchor="middle" >500</text>
<text transform="translate(214.65,247.60) scale(0.840,1)" font-size="10.2" text-anchor="middle" >600</text>
<text transform="translate(242.98,247.60) scale(0.840,1)" font-size="10.2" text-anchor="middle" >700</text>
<text transform="translate(271.31,247.60) scale(0.840,1)" font-size="10.2" text-anchor="middle" >800</text>
<text transform="translate(299.64,247.60) scale(0.840,1)" font-size="10.2" text-anchor="middle" >900</text>
<text transform="translate(327.97,247.60) scale(0.840,1)" font-size="10.2" text-anchor="middle" >1000</text>
<text transform="translate(394.10,249.40) scale(0.950,1)" font-size="10.8" text-anchor="middle" >100</text>
<text transform="translate(428.09,249.40) scale(0.950,1)" font-size="10.8" text-anchor="middle" >200</text>
<text transform="translate(462.08,249.40) scale(0.950,1)" font-size="10.8" text-anchor="middle" >300</text>
<text transform="translate(496.07,249.40) scale(0.950,1)" font-size="10.8" text-anchor="middle" >400</text>
<text transform="translate(530.06,249.40) scale(0.950,1)" font-size="10.8" text-anchor="middle" >500</text>
<text transform="translate(564.05,249.40) scale(0.950,1)" font-size="10.8" text-anchor="middle" >600</text>
<text transform="translate(598.04,249.40) scale(0.950,1)" font-size="10.8" text-anchor="middle" >700</text>
<text transform="translate(632.03,249.40) scale(0.950,1)" font-size="10.8" text-anchor="middle" >800</text>
<text transform="translate(666.02,249.40) scale(0.950,1)" font-size="10.8" text-anchor="middle" >900</text>
<text transform="translate(55.00,21.70)" font-size="14" text-anchor="start" >(a)</text>
<text transform="translate(399.00,28.60)" font-size="14.2" text-anchor="start" >(b)</text>
<text transform="translate(196.60,268.10) scale(1.055,1)" font-size="12" text-anchor="middle" xml:space="preserve" stroke-width="0.1">Temperature  (°C )</text>
<text transform="translate(538.50,271.50) scale(1.030,1)" font-size="12" text-anchor="middle" xml:space="preserve" stroke-width="0.1">Temperature  (°C )</text>
<text transform="translate(12.00,128.60) rotate(-90) scale(0.945,1)" font-size="14.4" text-anchor="middle" stroke-width="0.15">Weight (%)</text>
<text transform="translate(377.40,196.00) rotate(-90) scale(0.900,1)" font-size="15.4" text-anchor="start" stroke-width="0.1">Deriv. Weight</text>
<text transform="translate(377.40,67.60) rotate(-90) scale(0.900,1)" font-size="15.4" text-anchor="end" stroke-width="0.1" xml:space="preserve"><tspan font-size="12.6" font-weight="normal">(</tspan><tspan font-size="14">%</tspan><tspan font-size="12.6" font-weight="normal">/</tspan><tspan font-size="14.6" font-weight="normal">º</tspan><tspan font-size="15" font-weight="normal">C</tspan><tspan font-size="12.6" font-weight="normal"> )</tspan></text>
</g>
</svg>
</body></html>
